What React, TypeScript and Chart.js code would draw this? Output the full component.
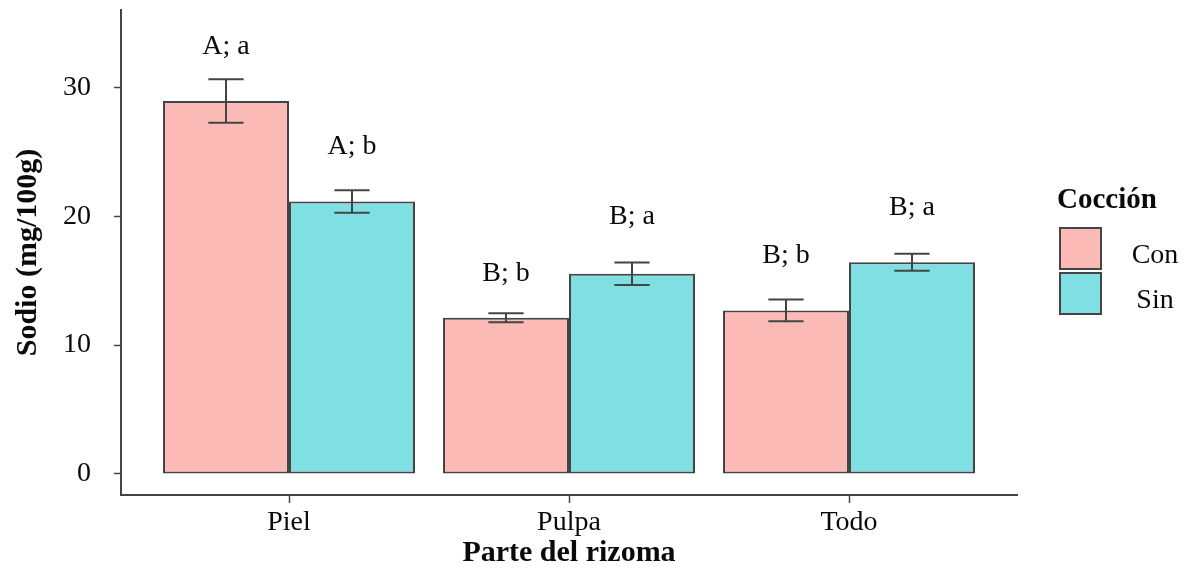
import { useEffect, useRef } from "react";
import { Chart, registerables } from "chart.js";

Chart.register(...registerables);

// Sodium content by rhizome part, cooked (Con) vs. uncooked (Sin)
const categories = ["Piel", "Pulpa", "Todo"];
const seriesNames = ["Con", "Sin"];
const conMeans = [28.94, 12.12, 12.69];
const sinMeans = [21.14, 15.53, 16.43];
const conErrors = [1.68, 0.35, 0.84];
const sinErrors = [0.87, 0.87, 0.66];
const conLetters = ["A; a", "B; b", "B; b"];
const sinLetters = ["A; b", "B; a", "B; a"];
// baseline height (in mg/100g) of each significance label
const conLetterHeights = [32.6, 15.0, 16.4];
const sinLetterHeights = [24.8, 19.4, 20.1];
const yTicks = [0, 10, 20, 30];

const SERIF = '"Liberation Serif", "Times New Roman", serif';
const TEXT = "#0a0a0a";
const LINE = "#444444";
const FILLS = ["#FBBAB6", "#80DFE2"];

const errorBarsPlugin = {
  id: "errorBarsAndLetters",
  afterDatasetsDraw(chart: any) {
    const { ctx, scales } = chart;
    const errs = [conErrors, sinErrors];
    const means = [conMeans, sinMeans];
    const letters = [conLetters, sinLetters];
    const heights = [conLetterHeights, sinLetterHeights];
    ctx.save();
    for (let d = 0; d < 2; d++) {
      const meta = chart.getDatasetMeta(d);
      meta.data.forEach((bar: any, i: number) => {
        const x = bar.x;
        const capHalf = bar.width * 0.14;
        const hi = scales.y.getPixelForValue(means[d][i] + errs[d][i]);
        const lo = scales.y.getPixelForValue(means[d][i] - errs[d][i]);
        ctx.strokeStyle = LINE;
        ctx.lineWidth = 2;
        ctx.beginPath();
        ctx.moveTo(x, hi);
        ctx.lineTo(x, lo);
        ctx.moveTo(x - capHalf, hi);
        ctx.lineTo(x + capHalf, hi);
        ctx.moveTo(x - capHalf, lo);
        ctx.lineTo(x + capHalf, lo);
        ctx.stroke();

        ctx.fillStyle = TEXT;
        ctx.font = `28px ${SERIF}`;
        ctx.textAlign = "center";
        ctx.textBaseline = "alphabetic";
        ctx.fillText(letters[d][i], x, scales.y.getPixelForValue(heights[d][i]));
      });
    }
    ctx.restore();
  },
  afterDraw(chart: any) {
    const { ctx, chartArea } = chart;
    const left = chartArea.right + 43;
    ctx.save();
    ctx.fillStyle = TEXT;
    ctx.font = `bold 29px ${SERIF}`;
    ctx.textAlign = "left";
    ctx.textBaseline = "alphabetic";
    ctx.fillText("Cocción", left - 3, 208);
    seriesNames.forEach((name, i) => {
      const top = 228 + i * 45;
      ctx.fillStyle = FILLS[i];
      ctx.fillRect(left, top, 41, 41);
      ctx.strokeStyle = LINE;
      ctx.lineWidth = 2;
      ctx.strokeRect(left, top, 41, 41);
      ctx.fillStyle = TEXT;
      ctx.font = `28px ${SERIF}`;
      ctx.textAlign = "center";
      ctx.fillText(name, left + 95, top + 35);
    });
    ctx.restore();
  },
};

export default function App() {
  const canvasRef = useRef<HTMLCanvasElement | null>(null);

  useEffect(() => {
    if (!canvasRef.current) return;
    const chart = new Chart(canvasRef.current, {
      type: "bar",
      data: {
        datasets: [
          {
            label: seriesNames[0],
            data: conMeans.map((v, i) => ({ x: i, y: v })),
            backgroundColor: FILLS[0],
          },
          {
            label: seriesNames[1],
            data: sinMeans.map((v, i) => ({ x: i, y: v })),
            backgroundColor: FILLS[1],
          },
        ] as any,
      },
      plugins: [errorBarsPlugin],
      options: {
        animation: false,
        responsive: false,
        maintainAspectRatio: false,
        layout: { padding: { top: 10, right: 176, left: 0, bottom: 0 } },
        datasets: {
          bar: {
            categoryPercentage: 0.9,
            barPercentage: 1,
            borderColor: LINE,
            borderWidth: 2,
            borderSkipped: false,
          },
        },
        plugins: {
          legend: { display: false },
          tooltip: { enabled: false },
        },
        scales: {
          x: {
            type: "linear",
            min: -0.6,
            max: 2.6,
            offset: false,
            afterBuildTicks: (axis: any) => {
              axis.ticks = categories.map((_, i) => ({ value: i }));
            },
            afterFit: (scale: any) => {
              scale.height = 79;
              scale.paddingLeft = 0;
              scale.paddingRight = 0;
            },
            ticks: {
              callback: (v: any) => categories[v as number] ?? "",
              font: { family: SERIF, size: 28 },
              color: TEXT,
              padding: 3,
              maxRotation: 0,
              autoSkip: false,
            },
            grid: {
              offset: false,
              drawOnChartArea: false,
              drawTicks: true,
              tickLength: 8,
              tickWidth: 1.5,
              tickColor: LINE,
            },
            border: { display: true, color: LINE, width: 2 },
            title: {
              display: true,
              text: "Parte del rizoma",
              font: { family: SERIF, size: 30, weight: "bold", lineHeight: 1 },
              color: TEXT,
              padding: { top: 0, bottom: 6 },
            },
          },
          y: {
            type: "linear",
            min: -1.63,
            max: 36,
            afterBuildTicks: (axis: any) => {
              axis.ticks = yTicks.map((v) => ({ value: v }));
            },
            afterFit: (scale: any) => {
              scale.width = 121;
              scale.paddingTop = 0;
              scale.paddingBottom = 0;
            },
            ticks: {
              font: { family: SERIF, size: 28 },
              color: TEXT,
              padding: 23,
            },
            grid: {
              drawOnChartArea: false,
              drawTicks: true,
              tickLength: 7,
              tickWidth: 1.5,
              tickColor: LINE,
            },
            border: { display: true, color: LINE, width: 2 },
            title: {
              display: true,
              text: "Sodio (mg/100g)",
              font: { family: SERIF, size: 30, weight: "bold", lineHeight: 1 },
              color: TEXT,
              padding: { top: 13, bottom: 0 },
            },
          },
        },
      } as any,
    });
    return () => chart.destroy();
  }, []);

  return (
    <div
      style={{
        position: "fixed",
        left: 0,
        top: 0,
        width: 1193,
        height: 574,
        background: "#ffffff",
      }}
    >
      <canvas ref={canvasRef} width={1193} height={574} />
    </div>
  );
}
